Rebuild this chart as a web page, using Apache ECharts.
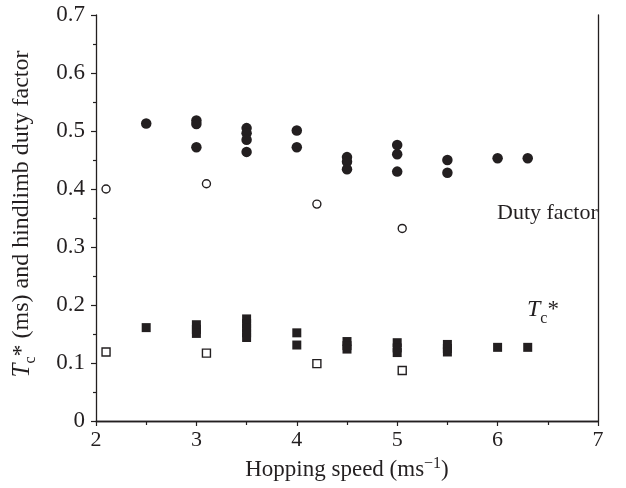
<!DOCTYPE html>
<html>
<head>
<meta charset="utf-8">
<script src="https://cdn.jsdelivr.net/npm/echarts@6/dist/echarts.min.js"></script>
<style>
html,body{margin:0;padding:0;background:#fff;}
#chart{width:626px;height:488px;}
</style>
</head>
<body>
<div id="chart"></div>
<script>
// Duty factor, filled circles [speed, value]
const dutyFilled = [
  [2.5, 0.513],
  [3.0, 0.518], [3.0, 0.512], [3.0, 0.472],
  [3.5, 0.505], [3.5, 0.496], [3.5, 0.485], [3.5, 0.464],
  [4.0, 0.501], [4.0, 0.472],
  [4.5, 0.455], [4.5, 0.447], [4.5, 0.434],
  [5.0, 0.476], [5.0, 0.460], [5.0, 0.430],
  [5.5, 0.450], [5.5, 0.428],
  [6.0, 0.453],
  [6.3, 0.453]
];
// Duty factor, open circles
const dutyOpen = [
  [2.1, 0.400], [3.1, 0.409], [4.2, 0.374], [5.05, 0.332]
];
// Tc*, filled squares
const tcFilled = [
  [2.5, 0.161],
  [3.0, 0.166], [3.0, 0.158], [3.0, 0.151],
  [3.5, 0.176], [3.5, 0.168], [3.5, 0.160], [3.5, 0.152], [3.5, 0.144],
  [4.0, 0.152], [4.0, 0.131],
  [4.5, 0.137], [4.5, 0.130], [4.5, 0.124],
  [5.0, 0.135], [5.0, 0.126], [5.0, 0.118],
  [5.5, 0.132], [5.5, 0.125], [5.5, 0.119],
  [6.0, 0.127],
  [6.3, 0.127]
];
// Tc*, open squares
const tcOpen = [
  [2.1, 0.119], [3.1, 0.117], [4.2, 0.099], [5.05, 0.087]
];
const xRange = [2, 7];
const yRange = [0, 0.7];

const ink = '#231f20';
const serif = '"Liberation Serif", "Times New Roman", serif';
const fs = 22;

const chart = echarts.init(document.getElementById('chart'), null, {renderer: 'canvas'});

const frameAxis = {
  axisLine: {show: true, lineStyle: {color: ink, width: 1.3}},
  axisTick: {show: false},
  axisLabel: {show: false},
  splitLine: {show: false}
};

function tcRich(size) {
  return {
    t: {fontFamily: serif, fontStyle: 'italic', fontSize: size + 1, fill: ink, lineHeight: 34, verticalAlign: 'middle'},
    c: {fontFamily: serif, fontSize: 16, fill: ink, lineHeight: 15, verticalAlign: 'bottom'},
    a: {fontFamily: serif, fontSize: size, fill: ink, lineHeight: 34, verticalAlign: 'middle'},
    n: {fontFamily: serif, fontSize: size, fill: ink, lineHeight: 34, verticalAlign: 'middle'}
  };
}

chart.setOption({
  animation: false,
  backgroundColor: '#fff',
  grid: {left: 96, right: 28, top: 15, bottom: 67, containLabel: false},
  xAxis: [{
    type: 'value', min: xRange[0], max: xRange[1], interval: 1,
    position: 'bottom',
    axisLine: {show: true, onZero: false, lineStyle: {color: ink, width: 1.3}},
    axisTick: {show: true, inside: false, length: 5, lineStyle: {color: ink, width: 1.2}},
    minorTick: {show: true, splitNumber: 2, length: 4, lineStyle: {color: ink, width: 1.2}},
    splitLine: {show: false},
    axisLabel: {color: ink, fontFamily: serif, fontSize: fs, margin: 8},
    name: '{n|Hopping speed (ms}{s|−1}{n|)}',
    nameLocation: 'middle', nameGap: 33,
    nameTextStyle: {
      color: ink, fontFamily: serif, fontSize: 23,
      rich: {
        n: {fontFamily: serif, fontSize: 23, color: ink, lineHeight: 28, verticalAlign: 'middle'},
        s: {fontFamily: serif, fontSize: 16, color: ink, lineHeight: 14, verticalAlign: 'top'}
      }
    }
  }, Object.assign({
    type: 'value', min: xRange[0], max: xRange[1], interval: 1, position: 'top'
  }, frameAxis)],
  yAxis: [{
    type: 'value', min: yRange[0], max: yRange[1], interval: 0.1,
    position: 'left',
    axisLine: {show: true, onZero: false, lineStyle: {color: ink, width: 1.3}},
    axisTick: {show: true, inside: false, length: 5, lineStyle: {color: ink, width: 1.2}},
    minorTick: {show: true, splitNumber: 2, length: 3, lineStyle: {color: ink, width: 1.2}},
    splitLine: {show: false},
    axisLabel: {color: ink, fontFamily: serif, fontSize: 23, margin: 11,
      formatter: v => (v === 0 ? '0' : v.toFixed(1))}
  }, Object.assign({
    type: 'value', min: yRange[0], max: yRange[1], interval: 0.1, position: 'right'
  }, frameAxis)],
  series: [
    {
      type: 'scatter', name: 'Duty factor', data: dutyFilled,
      symbol: 'circle', symbolSize: 10.5,
      itemStyle: {color: ink, opacity: 1}
    },
    {
      type: 'scatter', name: 'Duty factor (open)', data: dutyOpen,
      symbol: 'circle', symbolSize: 8,
      itemStyle: {color: '#fff', borderColor: ink, borderWidth: 1.4, opacity: 1}
    },
    {
      type: 'scatter', name: 'Tc*', data: tcFilled,
      symbol: 'rect', symbolSize: 9,
      itemStyle: {color: ink, opacity: 1}
    },
    {
      type: 'scatter', name: 'Tc* (open)', data: tcOpen,
      symbol: 'rect', symbolSize: 8,
      itemStyle: {color: '#fff', borderColor: ink, borderWidth: 1.4, opacity: 1}
    }
  ],
  graphic: [
    {
      type: 'text', x: 22, y: 214, rotation: Math.PI / 2,
      style: {
        text: '{t|T}{c|c}{a|*}{n| (ms) and hindlimb duty factor}',
        fill: ink, align: 'center', verticalAlign: 'middle',
        rich: tcRich(24)
      }
    },
    {
      type: 'text', left: 497, top: 202,
      style: {text: 'Duty factor', fill: ink, font: fs + 'px ' + serif}
    },
    {
      type: 'text', left: 527, top: 298,
      style: {
        text: '{t|T}{c|c}{a|*}',
        fill: ink,
        rich: tcRich(23)
      }
    }
  ]
});
</script>
</body>
</html>
